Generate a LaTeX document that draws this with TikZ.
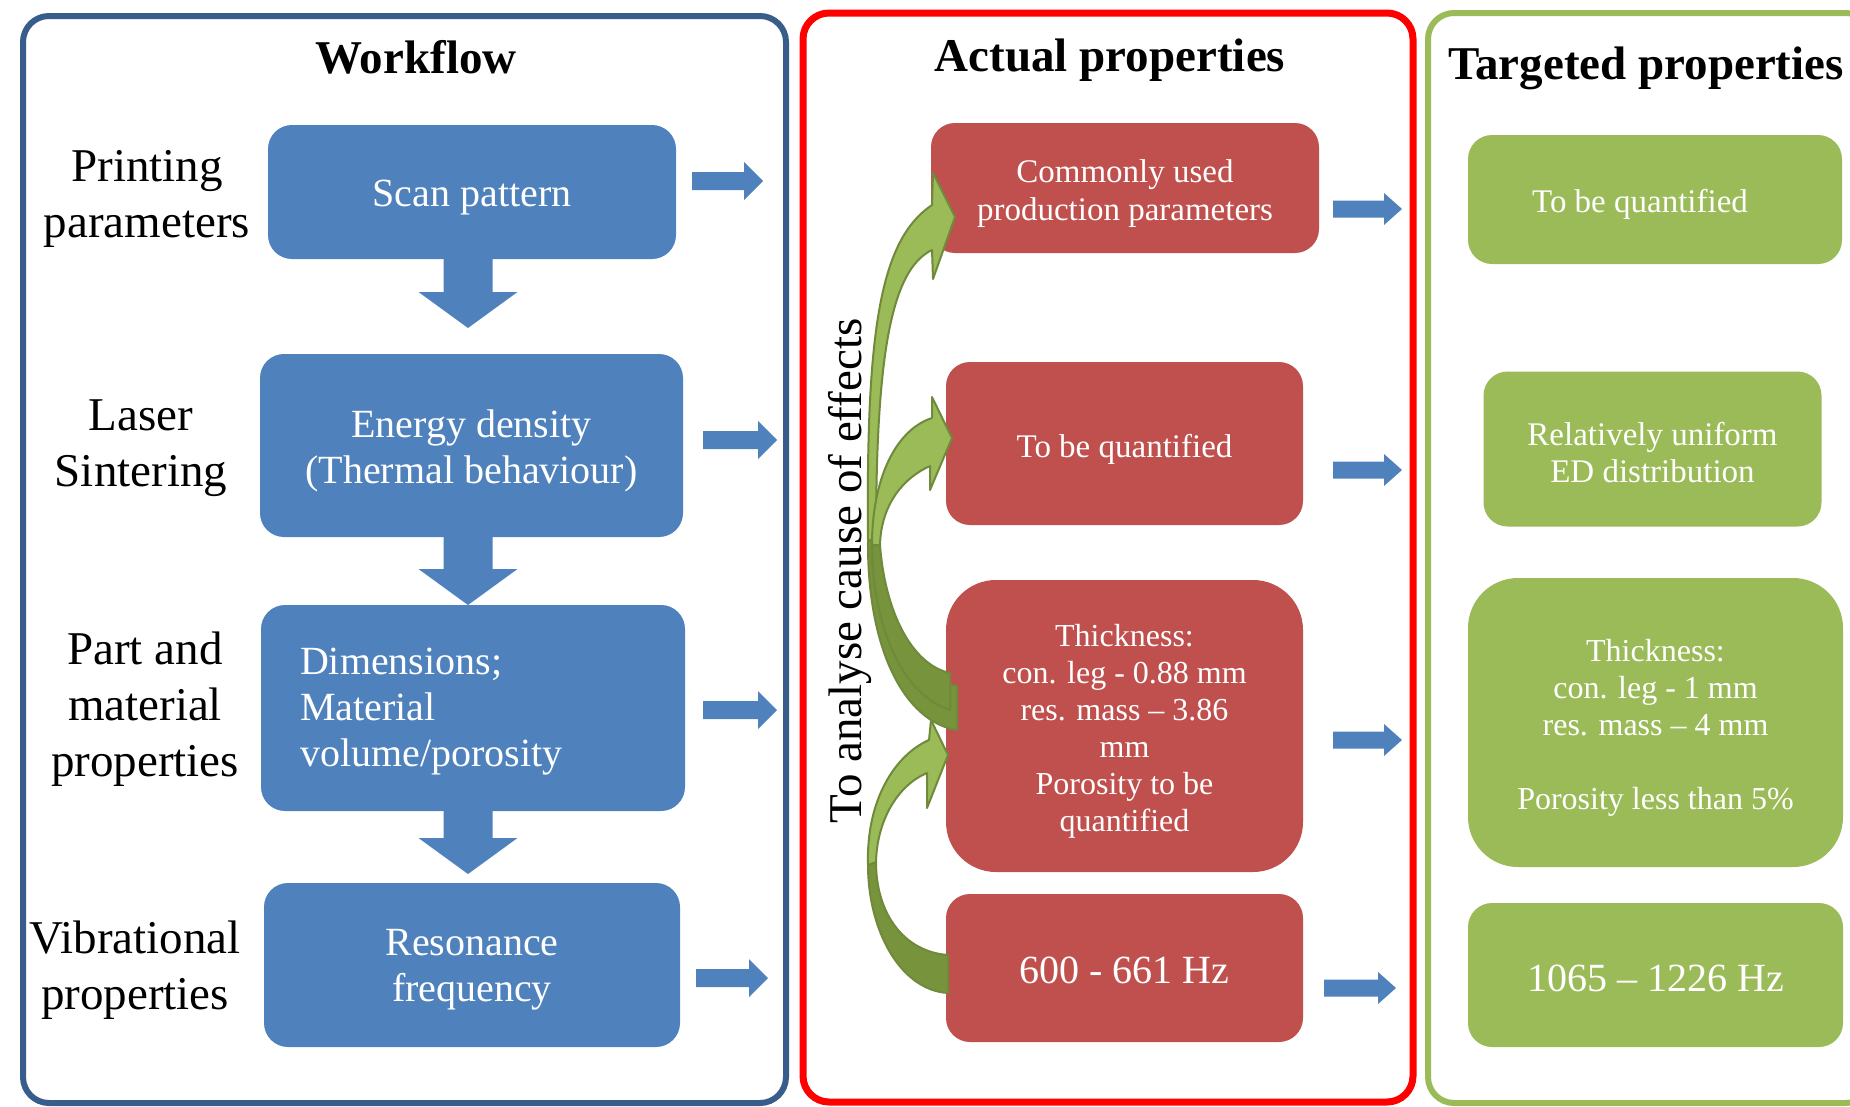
\documentclass[tikz,border=0pt]{standalone}
\usepackage{fontspec}
\setmainfont{Liberation Serif}
\usetikzlibrary{calc}
\definecolor{cblue}{HTML}{4F81BD}
\definecolor{cred}{HTML}{C0504D}
\definecolor{cgreen}{HTML}{9BBB59}
\definecolor{cgreendk}{HTML}{77933C}
\definecolor{cgreenln}{HTML}{6F8A3A}
\definecolor{cpanelblue}{HTML}{385D8A}
\newcommand{\downblock}[2]{\fill[cblue] let \p1=(#1), \p2=(#2) in (\x2-24.5pt,\y1) -- (\x2+24.5pt,\y1) -- (\x2+24.5pt,\y2+36pt) -- (\x2+49.5pt,\y2+36pt) -- (\x2,\y2) -- (\x2-49.5pt,\y2+36pt) -- (\x2-24.5pt,\y2+36pt) -- cycle;}
\newcommand{\rightblock}[5]{\fill[cblue] let \p1=(#1), \p2=(#2) in (\x1,\y1+#3) -- (\x2-#5,\y1+#3) -- (\x2-#5,\y1+#4) -- (\x2,\y1) -- (\x2-#5,\y1-#4) -- (\x2-#5,\y1-#3) -- (\x1,\y1-#3) -- cycle;}
% box with its text, text lowered by #5
\newcommand{\tbox}[6]{%
  \node[#1, #4] (#2) at (#3) {};
  \node[#1, #4, fill=none, yshift=#5] (#2t) at (#3) {#6};}
\begin{document}
\begin{tikzpicture}[x=1pt,y=-1pt,
  box/.style={rounded corners=24pt, inner sep=0pt, align=center, text=white},
  bluebox/.style={box, fill=cblue, font=\fontsize{40}{46}\selectfont},
  redbox/.style={box, fill=cred, font=\fontsize{33}{38}\selectfont},
  greenbox/.style={box, fill=cgreen, font=\fontsize{33}{37}\selectfont},
  sidelabel/.style={align=center, font=\fontsize{47}{56}\selectfont, inner sep=0pt},
  ttl/.style={font=\fontsize{47}{56}\selectfont\bfseries, inner sep=0pt, anchor=base},
  panel/.style={rounded corners=26pt, line width=6pt},
  glight/.style={fill=cgreen, draw=cgreenln, line width=2pt, line join=round},
  gdark/.style={fill=cgreendk, draw=cgreenln, line width=2pt, line join=round},
]
\useasboundingbox (0,0) rectangle (1850,1106);
\fill[white] (0,0) rectangle (1850,1106);

% panels
\draw[panel, draw=cpanelblue] (23,16) rectangle (786,1103);
\draw[panel, draw=red, line width=7pt] (803,13) rectangle (1413,1102);
\draw[panel, draw=cgreen] (1428,13) rectangle (1872,1103);

% titles
\node[ttl] (t1) at (416,73) {Workflow};
\node[ttl] (t2) at (1110,71) {Actual properties};
\node[ttl] (t3) at (1646,79) {Targeted properties};

% side labels
\node[sidelabel] (l1) at (147,199) {Printing\\parameters};
\node[sidelabel] (l2) at (141,448) {Laser\\Sintering};
\node[sidelabel] (l3) at (145,709) {Part and\\material\\properties};
\node[sidelabel] (l4) at (135,970) {Vibrational\\properties};

% blue boxes
\tbox{bluebox}{b1}{472,192}{minimum width=408pt, minimum height=134pt}{-6pt}{Scan pattern}
\tbox{bluebox}{b2}{471.5,445.5}{minimum width=423pt, minimum height=183pt}{-5pt}{Energy density\\(Thermal behaviour)}
\tbox{bluebox}{b3}{473,708}{text width=346pt, inner xsep=39pt, align=left, minimum height=206pt}{-4pt}{Dimensions;\\Material\\volume/porosity}
\tbox{bluebox}{b4}{472,965}{minimum width=416pt, minimum height=164pt}{-5pt}{Resonance\\frequency}

% down arrows
\coordinate (d1) at (468,328);
\coordinate (d2) at (468,605);
\coordinate (d3) at (468,874);
\downblock{b1.south}{d1}
\downblock{b2.south}{d2}
\downblock{b3.south}{d3}

% right arrows (workflow -> actual)
\coordinate (a1s) at (692,181); \coordinate (a1e) at (763,181);
\coordinate (a2s) at (703,440); \coordinate (a2e) at (777,440);
\coordinate (a3s) at (703,710); \coordinate (a3e) at (777,710);
\coordinate (a4s) at (696,978); \coordinate (a4e) at (768,978);
\rightblock{a1s}{a1e}{9pt}{19pt}{19pt}
\rightblock{a2s}{a2e}{9pt}{19pt}{19pt}
\rightblock{a3s}{a3e}{9pt}{19pt}{19pt}
\rightblock{a4s}{a4e}{9pt}{19pt}{19pt}

% red boxes
\tbox{redbox}{r1}{1125,188}{minimum width=388pt, minimum height=130pt}{-6pt}{Commonly used\\production parameters}
\tbox{redbox}{r2}{1124.5,443.5}{minimum width=357pt, minimum height=163pt}{-6pt}{To be quantified}
\tbox{redbox}{r3}{1124.5,726}{rounded corners=50pt, minimum width=357pt, minimum height=292pt, font=\fontsize{32}{37}\selectfont}{-5pt}{Thickness:\\con. leg - 0.88 mm\\res. mass – 3.86\\mm\\Porosity to be\\quantified}
\tbox{redbox}{r4}{1124.5,968}{minimum width=357pt, minimum height=148pt, font=\fontsize{40}{46}\selectfont}{-2pt}{600 - 661 Hz}

% right arrows (actual -> targeted)
\coordinate (m1s) at (1333,209); \coordinate (m1e) at (1402,209);
\coordinate (m2s) at (1333,470); \coordinate (m2e) at (1402,470);
\coordinate (m3s) at (1333,740); \coordinate (m3e) at (1402,740);
\coordinate (m4s) at (1324,988); \coordinate (m4e) at (1396,988);
\rightblock{m1s}{m1e}{8.5pt}{16pt}{18pt}
\rightblock{m2s}{m2e}{8.5pt}{16pt}{18pt}
\rightblock{m3s}{m3e}{8.5pt}{16pt}{18pt}
\rightblock{m4s}{m4e}{8.5pt}{16pt}{18pt}

% green boxes
\tbox{greenbox}{g1}{1655,199.5}{minimum width=374pt, minimum height=129pt}{-5pt}{To be quantified\hspace*{30pt}}
\tbox{greenbox}{g2}{1652.5,449}{minimum width=338pt, minimum height=155pt}{-4pt}{Relatively uniform\\ED distribution}
\tbox{greenbox}{g3}{1655.5,722.5}{rounded corners=50pt, minimum width=375pt, minimum height=289pt, font=\fontsize{32}{37}\selectfont}{-5pt}{Thickness:\\con. leg - 1 mm\\res. mass – 4 mm\\\mbox{}\\Porosity less than 5\%}
\tbox{greenbox}{g4}{1655.5,975}{minimum width=375pt, minimum height=144pt, font=\fontsize{40}{46}\selectfont}{-3pt}{1065 – 1226 Hz}

% rotated label
\node[rotate=90, font=\fontsize{47}{56}\selectfont, inner sep=0pt] (rot) at (850,571) {To analyse cause of effects};

% curved green arrows: dark tails
\filldraw[gdark] (868,540) .. controls (867,650) and (905,722) .. (957,730) -- (957,686) .. controls (915,680) and (881,620) .. (876,540) -- cycle;
\filldraw[gdark] (872,545) .. controls (872,625) and (902,695) .. (950,710) -- (950,673) .. controls (912,665) and (885,612) .. (880,545) -- cycle;
\filldraw[gdark] (948,993) .. controls (900,990) and (868,930) .. (868,865) -- (876,862) .. controls (876,915) and (905,952) .. (948,955) -- cycle;
% light parts with heads
\filldraw[glight] (868,540) .. controls (866,330) and (880,240) .. (932,205) -- (933,173) -- (955,217) -- (933,279) -- (932,250) .. controls (890,270) and (876,360) .. (876,540) -- cycle;
\filldraw[glight] (872,545) .. controls (872,480) and (895,430) .. (932,418) -- (932,397) -- (952,438) -- (930,490) -- (930,466) .. controls (903,478) and (881,505) .. (880,545) -- cycle;
\filldraw[glight] (868,865) .. controls (866,800) and (895,755) .. (929,740) -- (931,720) -- (948,755) -- (927,808) -- (927,773) .. controls (898,785) and (877,820) .. (876,862) -- cycle;
\end{tikzpicture}
\end{document}
